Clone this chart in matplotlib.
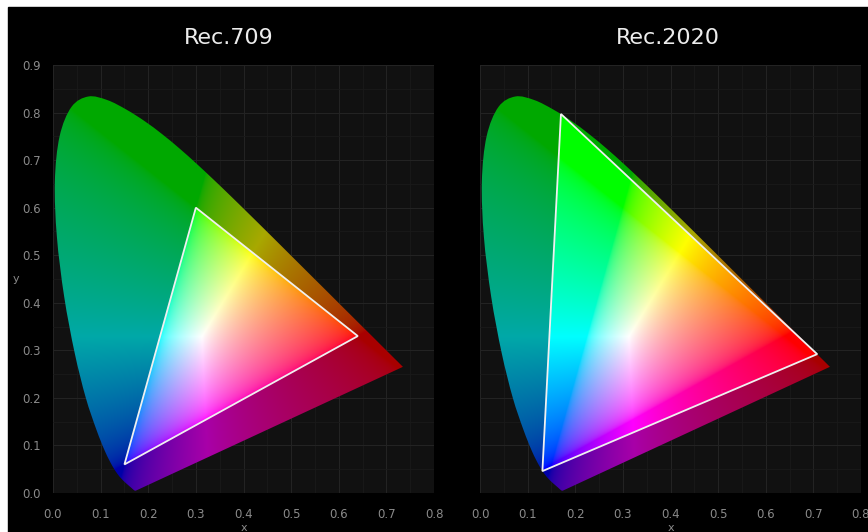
import numpy as np
import matplotlib
matplotlib.use('Agg')
from matplotlib import pyplot as plt
from matplotlib.path import Path
from matplotlib.patches import Polygon, Rectangle, PathPatch

# CIE 1931 2-degree spectral locus, 380-700 nm
LOCUS_X = [0.1741, 0.1740, 0.1738, 0.1736, 0.1733, 0.1730, 0.1726, 0.1721,
           0.1714, 0.1703, 0.1689, 0.1669, 0.1644, 0.1611, 0.1566, 0.1510,
           0.1440, 0.1355, 0.1241, 0.1096, 0.0913, 0.0687, 0.0454, 0.0235,
           0.0082, 0.0039, 0.0139, 0.0389, 0.0743, 0.1142, 0.1547, 0.1929,
           0.2296, 0.2658, 0.3016, 0.3373, 0.3731, 0.4087, 0.4441, 0.4788,
           0.5125, 0.5448, 0.5752, 0.6029, 0.6270, 0.6482, 0.6658, 0.6801,
           0.6915, 0.7006, 0.7079, 0.7140, 0.7190, 0.7230, 0.7260, 0.7283,
           0.7300, 0.7311, 0.7320, 0.7334, 0.7344, 0.7347]
LOCUS_Y = [0.0050, 0.0050, 0.0049, 0.0049, 0.0048, 0.0048, 0.0048, 0.0048,
           0.0051, 0.0058, 0.0069, 0.0086, 0.0109, 0.0138, 0.0177, 0.0227,
           0.0297, 0.0399, 0.0578, 0.0868, 0.1327, 0.2007, 0.2950, 0.4127,
           0.5384, 0.6548, 0.7502, 0.8120, 0.8338, 0.8262, 0.8059, 0.7816,
           0.7543, 0.7243, 0.6923, 0.6589, 0.6245, 0.5896, 0.5547, 0.5202,
           0.4866, 0.4544, 0.4242, 0.3965, 0.3725, 0.3514, 0.3340, 0.3197,
           0.3083, 0.2993, 0.2920, 0.2859, 0.2809, 0.2770, 0.2740, 0.2717,
           0.2700, 0.2689, 0.2680, 0.2666, 0.2656, 0.2653]

# gamut primaries (R, G, B)
REC709_X = [0.640, 0.300, 0.150]
REC709_Y = [0.330, 0.600, 0.060]
REC2020_X = [0.708, 0.170, 0.131]
REC2020_Y = [0.292, 0.797, 0.046]

TITLES = ['Rec.709', 'Rec.2020']
X_TICKS = [0.0, 0.1, 0.2, 0.3, 0.4, 0.5, 0.6, 0.7, 0.8]
Y_TICKS = [0.0, 0.1, 0.2, 0.3, 0.4, 0.5, 0.6, 0.7, 0.8, 0.9]

XYZ_TO_SRGB = np.array([[3.2406, -1.5372, -0.4986],
                        [-0.9689, 1.8758, 0.0415],
                        [0.0557, -0.2040, 1.0570]])

TXT = '#8a8a8a'


def smooth_locus_path():
    # spectral curve as cubic Bezier segments, closed by the purple line
    pts = np.column_stack([LOCUS_X, LOCUS_Y])
    n = len(pts)
    verts = [pts[0]]
    codes = [Path.MOVETO]
    for k in range(n - 1):
        p0 = pts[max(k - 1, 0)]
        p1 = pts[k]
        p2 = pts[k + 1]
        p3 = pts[min(k + 2, n - 1)]
        c1 = p1 + (p2 - p0) / 6.0
        c2 = p2 - (p3 - p1) / 6.0
        verts += [c1, c2, p2]
        codes += [Path.CURVE4] * 3
    verts.append(pts[0])
    codes.append(Path.CLOSEPOLY)
    return Path(np.array(verts), codes)


def chroma_image(tri_x, tri_y, nx=640, ny=720, dim=0.66):
    xs = np.linspace(0, 0.8, nx)
    ys = np.linspace(0, 0.9, ny)
    gx, gy = np.meshgrid(xs, ys)
    yy = np.maximum(gy, 1e-3)
    xyz = np.stack([gx / yy, np.ones_like(gx), (1 - gx - gy) / yy], axis=-1)
    rgb = xyz @ XYZ_TO_SRGB.T
    rgb = np.clip(rgb, 0, None)
    rgb = rgb / (rgb.max(axis=-1, keepdims=True) + 1e-9)
    srgb = np.where(rgb <= 0.0031308, 12.92 * rgb,
                    1.055 * np.power(rgb, 1 / 2.4) - 0.055)
    tri = Path(np.column_stack([tri_x, tri_y]))
    inside = tri.contains_points(np.column_stack([gx.ravel(), gy.ravel()]))
    inside = inside.reshape(gx.shape)
    srgb[~inside] *= dim
    return np.clip(srgb, 0, 1)


fig = plt.figure(figsize=(8.68, 5.32), dpi=100, facecolor='white')
# black backdrop, leaving a thin white strip on the top and left
fig.patches.append(Rectangle((8 / 868, 0), 1, 1 - 7 / 532,
                             transform=fig.transFigure, color='black', zorder=-5))

W, H = 868.0, 532.0
boxes = [[53 / W, 39 / H, 381 / W, 428 / H],
         [480 / W, 39 / H, 381 / W, 428 / H]]
title_x = [229, 668]
gamuts = [(REC709_X, REC709_Y), (REC2020_X, REC2020_Y)]
locus_path = smooth_locus_path()

for i in range(2):
    ax = fig.add_axes(boxes[i])
    ax.set_facecolor('#111111')
    for s in ax.spines.values():
        s.set_visible(False)
    ax.set_xlim(0, 0.8)
    ax.set_ylim(0, 0.9)
    ax.set_xticks(X_TICKS)
    ax.set_xticks(np.arange(0.05, 0.8, 0.1), minor=True)
    ax.set_yticks(np.arange(0.05, 0.9, 0.1), minor=True)
    ax.set_xticklabels(['%.1f' % v for v in X_TICKS])
    ax.set_yticks(Y_TICKS)
    if i == 0:
        ax.set_yticklabels(['%.1f' % v for v in Y_TICKS])
        ax.set_ylabel('y', color=TXT, fontsize=8, rotation=0,
                      va='center', labelpad=4)
    else:
        ax.set_yticklabels([])
    ax.tick_params(which='both', length=0, colors=TXT, labelsize=8.5)
    ax.tick_params(axis='x', pad=11)
    ax.tick_params(axis='y', pad=9)
    ax.set_xlabel('x', color=TXT, fontsize=8, labelpad=1)
    ax.grid(which='major', color='#232323', lw=0.8)
    ax.grid(which='minor', color='#1a1a1a', lw=0.6)
    ax.set_axisbelow(True)

    gx, gy = gamuts[i]
    img = chroma_image(gx, gy)
    im = ax.imshow(img, origin='lower', extent=(0, 0.8, 0, 0.9),
                   aspect='auto', interpolation='bilinear', zorder=2)
    clip = PathPatch(locus_path, transform=ax.transData)
    im.set_clip_path(clip)

    ax.add_patch(Polygon(np.column_stack([gx, gy]), closed=True, fill=False,
                         edgecolor='#f0f0f0', lw=1.3, zorder=3))

    fig.text(title_x[i] / W, 1 - 38 / H, TITLES[i], color='#ececec',
             fontsize=16, ha='center', va='center')

fig.savefig('out.png', dpi=100, facecolor=fig.get_facecolor())
